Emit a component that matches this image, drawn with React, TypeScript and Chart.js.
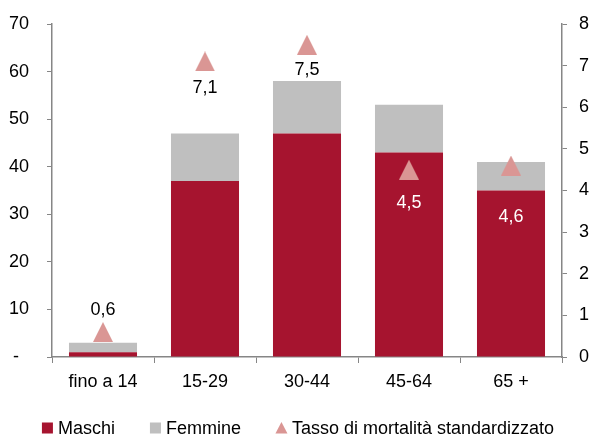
import React, { useEffect, useRef } from 'react';
import { Chart, registerables } from 'chart.js';

Chart.register(...registerables);

const categories = ['fino a 14', '15-29', '30-44', '45-64', '65 +'];
const maschi = [1, 37, 47, 43, 35];
const femmine = [2, 10, 11, 10, 6];
const tasso = [0.6, 7.1, 7.5, 4.5, 4.6];
const seriesNames = ['Maschi', 'Femmine', 'Tasso di mortalità standardizzato'];
const leftMax = 70;
const leftStep = 10;
const rightMax = 8;
const rightStep = 1;

const RED = '#A6142F';
const GRAY = '#BFBFBF';
const PINK = '#DA9694';
const AXIS = '#868686';
const FONT = "'Liberation Sans Narrow', 'Arial Narrow', 'Liberation Sans', Arial, sans-serif";
const FONT_SIZE = 18;

function makeTriangle(w: number, h: number, color: string) {
  const c = document.createElement('canvas');
  c.width = w;
  c.height = h;
  const ctx = c.getContext('2d')!;
  ctx.fillStyle = color;
  ctx.beginPath();
  ctx.moveTo(w / 2, 0);
  ctx.lineTo(w, h);
  ctx.lineTo(0, h);
  ctx.closePath();
  ctx.fill();
  return c;
}

const valueLabelsPlugin = {
  id: 'valueLabels',
  afterDatasetsDraw(chart: any, _args: any, opts: any) {
    const meta = chart.getDatasetMeta(opts.datasetIndex);
    const ds = chart.data.datasets[opts.datasetIndex];
    const ctx = chart.ctx;
    ctx.save();
    ctx.font = `${FONT_SIZE}px ${FONT}`;
    ctx.textAlign = 'center';
    ctx.textBaseline = 'middle';
    meta.data.forEach((pt: any, i: number) => {
      const v = ds.data[i] as number;
      const text = v.toFixed(1).replace('.', ',');
      ctx.fillStyle = opts.colors[i];
      ctx.fillText(text, pt.x, pt.y + opts.offsets[i]);
    });
    ctx.restore();
  },
};

const customLegendPlugin = {
  id: 'customLegend',
  afterDraw(chart: any, _args: any, opts: any) {
    const ctx = chart.ctx;
    ctx.save();
    ctx.font = `${FONT_SIZE}px ${FONT}`;
    ctx.textBaseline = 'middle';
    ctx.textAlign = 'left';
    const items = chart.data.datasets.map((d: any, i: number) => ({
      label: d.label,
      color: opts.colors[i],
      shape: opts.shapes[i],
    }));
    const widths = items.map((it: any) => opts.box + opts.gap + ctx.measureText(it.label).width);
    const total = widths.reduce((a: number, b: number) => a + b, 0) + opts.spacing * (items.length - 1);
    let x = (chart.width - total) / 2 + 2;
    const y = opts.y;
    items.forEach((it: any, i: number) => {
      ctx.fillStyle = it.color;
      if (it.shape === 'triangle') {
        ctx.beginPath();
        ctx.moveTo(x + opts.box / 2, y - opts.box / 2 - 0.5);
        ctx.lineTo(x + opts.box + 0.5, y + opts.box / 2);
        ctx.lineTo(x - 0.5, y + opts.box / 2);
        ctx.closePath();
        ctx.fill();
      } else {
        ctx.fillRect(x, y - opts.box / 2, opts.box, opts.box);
      }
      ctx.fillStyle = '#000';
      ctx.fillText(it.label, x + opts.box + opts.gap, y + 1);
      x += widths[i] + opts.spacing;
    });
    ctx.restore();
  },
};

export default function App() {
  const ref = useRef<HTMLCanvasElement | null>(null);

  useEffect(() => {
    document.body.style.margin = '0';
    const canvas = ref.current;
    if (!canvas) return;
    const tri = makeTriangle(20, 20, PINK);
    const chart = new Chart(canvas, {
      type: 'bar',
      data: {
        labels: categories,
        datasets: [
          {
            type: 'bar',
            label: seriesNames[0],
            data: maschi,
            backgroundColor: RED,
            yAxisID: 'y',
            stack: 'a',
            order: 1,
            barPercentage: 0.667,
            categoryPercentage: 1,
          },
          {
            type: 'bar',
            label: seriesNames[1],
            data: femmine,
            backgroundColor: GRAY,
            yAxisID: 'y',
            stack: 'a',
            order: 2,
            barPercentage: 0.667,
            categoryPercentage: 1,
          },
          {
            type: 'line',
            label: seriesNames[2],
            data: tasso,
            yAxisID: 'y1',
            showLine: false,
            pointStyle: tri as any,
            pointRadius: 10,
            backgroundColor: PINK,
            borderColor: PINK,
            order: 0,
          } as any,
        ],
      },
      plugins: [valueLabelsPlugin, customLegendPlugin],
      options: {
        animation: false,
        responsive: false,
        layout: { padding: { top: 24, bottom: 40, left: 0, right: 0 } },
        plugins: {
          legend: { display: false },
          tooltip: { enabled: false },
          valueLabels: {
            datasetIndex: 2,
            offsets: [-22, 27, 25, 33, 52],
            colors: ['#000', '#000', '#000', '#fff', '#fff'],
          },
          customLegend: {
            colors: [RED, GRAY, PINK],
            shapes: ['rect', 'rect', 'triangle'],
            box: 11,
            gap: 5,
            spacing: 35,
            y: 428,
          },
        } as any,
        scales: {
          x: {
            stacked: true,
            grid: {
              display: true,
              drawOnChartArea: false,
              drawTicks: true,
              tickLength: 6,
              color: AXIS,
              offset: true,
            },
            border: { display: true, color: AXIS, width: 1.5 },
            ticks: { color: '#000', padding: 8, font: { family: FONT, size: FONT_SIZE } },
            afterFit: (s: any) => { s.height = 38; },
          },
          y: {
            position: 'left',
            stacked: true,
            min: 0,
            max: leftMax,
            grid: {
              display: true,
              drawOnChartArea: false,
              drawTicks: true,
              tickLength: 5,
              color: AXIS,
            },
            border: { display: true, color: AXIS, width: 1.5 },
            ticks: {
              stepSize: leftStep,
              color: '#000',
              padding: 18,
              font: { family: FONT, size: FONT_SIZE, lineHeight: 0.5 },
              callback: (v: any) => (Number(v) === 0 ? '-  ' : String(v)),
            },
            afterFit: (s: any) => { s.width = 52; },
          },
          y1: {
            position: 'right',
            min: 0,
            max: rightMax,
            grid: {
              display: true,
              drawOnChartArea: false,
              drawTicks: true,
              tickLength: 5,
              color: AXIS,
            },
            border: { display: true, color: AXIS, width: 1.5 },
            ticks: {
              stepSize: rightStep,
              color: '#000',
              padding: 12,
              font: { family: FONT, size: FONT_SIZE, lineHeight: 0.5 },
            },
            afterFit: (s: any) => { s.width = 30; },
          },
        },
      },
    });
    return () => chart.destroy();
  }, []);

  return (
    <div style={{ width: 592, height: 435, overflow: 'hidden' }}>
      <canvas ref={ref} width={592} height={435} style={{ width: 592, height: 435, display: 'block' }} />
    </div>
  );
}
